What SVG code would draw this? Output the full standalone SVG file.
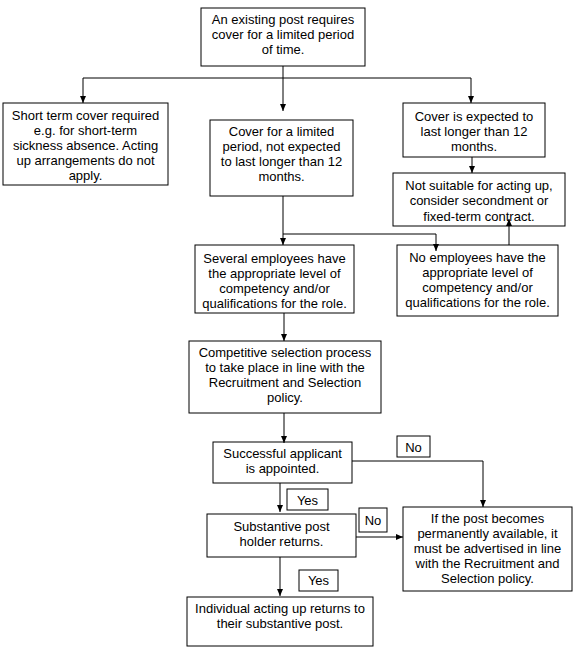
<svg xmlns="http://www.w3.org/2000/svg" width="584" height="654" viewBox="0 0 584 654">
<style>
  .box { fill: #fff; stroke: #000; stroke-width: 1; }
  .t { font-family: "Liberation Sans", Arial, sans-serif; font-size: 13px; fill: #000; text-anchor: middle; }
  .c { fill: none; stroke: #000; stroke-width: 1; }
</style>
<defs>
  <marker id="arr" markerUnits="userSpaceOnUse" markerWidth="7" markerHeight="6" refX="7" refY="3" orient="auto">
    <path d="M0,0 L7,3 L0,6 z" fill="#000"/>
  </marker>
</defs>
<rect width="584" height="654" fill="#fff"/>

<g id="n-start">
  <rect class="box" x="201" y="8" width="164" height="58"/>
  <text class="t" x="283" y="24">An existing post requires</text>
  <text class="t" x="283" y="39">cover for a limited period</text>
  <text class="t" x="283" y="54">of time.</text>
</g>

<g id="n-short">
  <rect class="box" x="3" y="103" width="165" height="82"/>
  <text class="t" x="85.5" y="119.5">Short term cover required</text>
  <text class="t" x="85.5" y="134.5">e.g. for short-term</text>
  <text class="t" x="85.5" y="149.5">sickness absence. Acting</text>
  <text class="t" x="85.5" y="164.5">up arrangements do not</text>
  <text class="t" x="85.5" y="180">apply.</text>
</g>

<g id="n-limited">
  <rect class="box" x="210" y="120" width="143" height="76"/>
  <text class="t" x="281.5" y="135.5">Cover for a limited</text>
  <text class="t" x="281.5" y="150.5">period, not expected</text>
  <text class="t" x="281.5" y="165.5">to last longer than 12</text>
  <text class="t" x="281.5" y="180.5">months.</text>
</g>

<g id="n-longer">
  <rect class="box" x="403" y="103" width="142" height="54"/>
  <text class="t" x="474" y="120.5">Cover is expected to</text>
  <text class="t" x="474" y="135.5">last longer than 12</text>
  <text class="t" x="474" y="150.5">months.</text>
</g>

<g id="n-notsuitable">
  <rect class="box" x="393" y="173" width="172" height="53"/>
  <text class="t" x="479" y="189.5">Not suitable for acting up,</text>
  <text class="t" x="479" y="205">consider secondment or</text>
  <text class="t" x="479" y="220.5">fixed-term contract.</text>
</g>

<g id="n-several">
  <rect class="box" x="195" y="245" width="159" height="68"/>
  <text class="t" x="274.5" y="262.5">Several employees have</text>
  <text class="t" x="274.5" y="277.5">the appropriate level of</text>
  <text class="t" x="274.5" y="292.5">competency and/or</text>
  <text class="t" x="274.5" y="307.5">qualifications for the role.</text>
</g>

<g id="n-noemployees">
  <rect class="box" x="397" y="245" width="161" height="71"/>
  <text class="t" x="477.5" y="261.5">No employees have the</text>
  <text class="t" x="477.5" y="276.5">appropriate level of</text>
  <text class="t" x="477.5" y="291.5">competency and/or</text>
  <text class="t" x="477.5" y="306.5">qualifications for the role.</text>
</g>

<g id="n-competitive">
  <rect class="box" x="189" y="341" width="192" height="72"/>
  <text class="t" x="285" y="356.5">Competitive selection process</text>
  <text class="t" x="285" y="371.5">to take place in line with the</text>
  <text class="t" x="285" y="386.5">Recruitment and Selection</text>
  <text class="t" x="285" y="401.5">policy.</text>
</g>

<g id="n-successful">
  <rect class="box" x="213" y="442" width="139" height="41"/>
  <text class="t" x="282.5" y="457.5">Successful applicant</text>
  <text class="t" x="282.5" y="472.5">is appointed.</text>
</g>

<g id="l-no1">
  <rect class="box" x="397" y="436" width="33" height="21"/>
  <text class="t" x="413.5" y="451.5">No</text>
</g>

<g id="l-yes1">
  <rect class="box" x="287" y="489" width="41" height="21"/>
  <text class="t" x="307.5" y="504.5">Yes</text>
</g>

<g id="n-substantive">
  <rect class="box" x="207" y="514" width="149" height="43"/>
  <text class="t" x="281.5" y="531">Substantive post</text>
  <text class="t" x="281.5" y="546">holder returns.</text>
</g>

<g id="l-no2">
  <rect class="box" x="359" y="508" width="28" height="24"/>
  <text class="t" x="373" y="525">No</text>
</g>

<g id="n-advertise">
  <rect class="box" x="403" y="507" width="169" height="84"/>
  <text class="t" x="487.5" y="523">If the post becomes</text>
  <text class="t" x="487.5" y="538">permanently available, it</text>
  <text class="t" x="487.5" y="553">must be advertised in line</text>
  <text class="t" x="487.5" y="568">with the Recruitment and</text>
  <text class="t" x="487.5" y="583">Selection policy.</text>
</g>

<g id="l-yes2">
  <rect class="box" x="299" y="570" width="39" height="21"/>
  <text class="t" x="318.5" y="585">Yes</text>
</g>

<g id="n-individual">
  <rect class="box" x="187" y="597" width="186" height="49"/>
  <text class="t" x="280" y="613">Individual acting up returns to</text>
  <text class="t" x="280" y="628">their substantive post.</text>
</g>

<g id="connectors">
  <path class="c" d="M283,66 V78 M83,78 H471"/>
  <path class="c" d="M83,78 V103" marker-end="url(#arr)"/>
  <path class="c" d="M283,78 V111" marker-end="url(#arr)"/>
  <path class="c" d="M471,78 V103" marker-end="url(#arr)"/>
  <path class="c" d="M472,157 V173" marker-end="url(#arr)"/>
  <path class="c" d="M283,196 V245" marker-end="url(#arr)"/>
  <path class="c" d="M283,234 H436 V251" marker-end="url(#arr)"/>
  <path class="c" d="M509,245 V219" marker-end="url(#arr)"/>
  <path class="c" d="M284,313 V341" marker-end="url(#arr)"/>
  <path class="c" d="M284,413 V443" marker-end="url(#arr)"/>
  <path class="c" d="M352,461 H483 V507" marker-end="url(#arr)"/>
  <path class="c" d="M280,483 V512" marker-end="url(#arr)"/>
  <path class="c" d="M356,537 H403" marker-end="url(#arr)"/>
  <path class="c" d="M280,557 V596" marker-end="url(#arr)"/>
</g>
</svg>
